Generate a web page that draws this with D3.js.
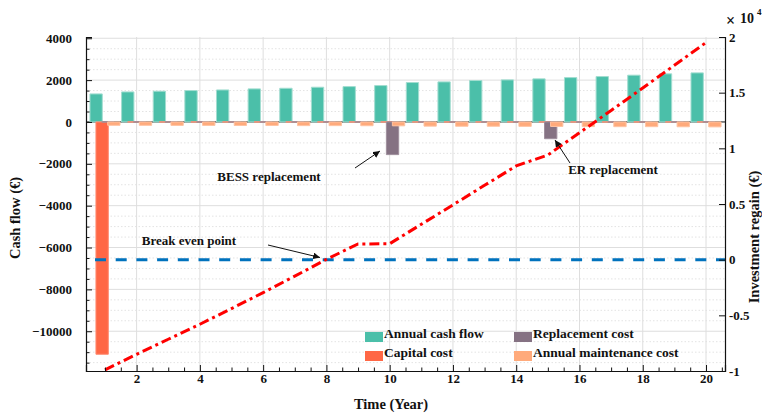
<!DOCTYPE html>
<html>
<head>
<meta charset="utf-8">
<script src="https://cdn.jsdelivr.net/npm/d3@7"></script>
<style>
  html, body { margin: 0; padding: 0; background: #fff; }
  svg text { font-family: "Liberation Serif", "Times New Roman", serif; font-weight: bold; fill: #111; }
</style>
</head>
<body>
<svg id="chart" width="762" height="415"></svg>
<script>
// ---- data ----
const years = [1, 2, 3, 4, 5, 6, 7, 8, 9, 10, 11, 12, 13, 14, 15, 16, 17, 18, 19, 20];
const annualCashFlow = [1340, 1435, 1470, 1500, 1530, 1580, 1610, 1660, 1690, 1740,
                        1885, 1915, 1980, 2010, 2060, 2120, 2170, 2235, 2300, 2345];
const capitalCost = [-11100, 0, 0, 0, 0, 0, 0, 0, 0, 0, 0, 0, 0, 0, 0, 0, 0, 0, 0, 0];
const replacementCost = [0, 0, 0, 0, 0, 0, 0, 0, 0, -1560, 0, 0, 0, 0, -800, 0, 0, 0, 0, 0];
const maintenanceCost = [-160, -160, -165, -165, -170, -170, -175, -175, -180, -185,
                         -200, -205, -205, -210, -215, -220, -225, -225, -230, -235];
const investmentRegain = [-9900, -8500, -7150, -5800, -4390, -2960, -1480, 30, 1410, 1430,
                          3180, 4920, 6680, 8420, 9400, 11400, 13400, 15420, 17460, 19500];
const breakEven = 0;

const seriesNames = ["Annual cash flow", "Capital cost", "Replacement cost", "Annual maintenance cost"];
const seriesColors = ["#4bbfa9", "#ff6745", "#857283", "#ffaa7b"];
const seriesEdges = ["#a2ddd0", "#ff8a70", "#9f8f9d", "#ffc3a2"];

const leftTicks = [-10000, -8000, -6000, -4000, -2000, 0, 2000, 4000];
const rightTicks = [-10000, -5000, 0, 5000, 10000, 15000, 20000];
const rightTickLabels = ["-1", "-0.5", "0", "0.5", "1", "1.5", "2"];
const xTicks = [2, 4, 6, 8, 10, 12, 14, 16, 18, 20];

// ---- layout ----
const svg = d3.select("#chart");
const plot = { left: 86, right: 725, top: 37, bottom: 371 };

const x = d3.scaleLinear().domain([0.4, 20.6]).range([plot.left, plot.right]);
const yL = d3.scaleLinear().domain([-11900, 4060]).range([plot.bottom, plot.top]);
const yR = d3.scaleLinear().domain([-10000, 20000]).range([plot.bottom, plot.top]);

svg.append("rect").attr("width", 762).attr("height", 415).attr("fill", "#fff");

// ---- grid ----
const grid = svg.append("g");
const leftMinor = d3.range(-11500, 4001, 500).filter(v => v % 2000 !== 0);
grid.selectAll(".hmin").data(leftMinor).join("line")
  .attr("x1", plot.left).attr("x2", plot.right)
  .attr("y1", d => yL(d)).attr("y2", d => yL(d))
  .attr("stroke", "#e3e3e3").attr("stroke-width", 1).attr("stroke-dasharray", "1.5 2");
grid.selectAll(".hmaj").data(leftTicks).join("line")
  .attr("x1", plot.left).attr("x2", plot.right)
  .attr("y1", d => yL(d)).attr("y2", d => yL(d))
  .attr("stroke", "#dedede").attr("stroke-width", 1);
grid.selectAll(".vmaj").data(xTicks).join("line")
  .attr("x1", d => x(d)).attr("x2", d => x(d))
  .attr("y1", plot.top).attr("y2", plot.bottom)
  .attr("stroke", "#dedede").attr("stroke-width", 1);

// ---- bars (grouped, four series per year) ----
const barSeries = [annualCashFlow, capitalCost, replacementCost, maintenanceCost];
const offsets = [-0.28, -0.09, 0.09, 0.28];
const barW = 0.39;

svg.append("line")
  .attr("x1", plot.left).attr("x2", plot.right)
  .attr("y1", yL(0)).attr("y2", yL(0))
  .attr("stroke", "#222").attr("stroke-width", 1);

barSeries.forEach((vals, s) => {
  svg.append("g").selectAll("path").data(years).join("path")
    .attr("d", (yr, i) => {
      const x0 = x(yr + offsets[s] - barW / 2), x1 = x(yr + offsets[s] + barW / 2);
      const y0 = yL(0), y1 = yL(vals[i]);
      return `M${x0},${y0}V${y1}H${x1}V${y0}Z`;
    })
    .attr("fill", seriesColors[s])
    .attr("stroke", seriesEdges[s])
    .attr("stroke-width", 1);
});

// ---- break-even reference line (right axis zero) ----
svg.append("line")
  .attr("x1", plot.left).attr("x2", plot.right)
  .attr("y1", yR(breakEven)).attr("y2", yR(breakEven))
  .attr("stroke", "#0072bd").attr("stroke-width", 3)
  .attr("stroke-dasharray", "11 9.7").attr("stroke-dashoffset", 11.7);

// ---- cumulative investment regain ----
const regainLine = d3.line().x((d, i) => x(years[i])).y(d => yR(d));
svg.append("path")
  .attr("d", regainLine(investmentRegain))
  .attr("fill", "none").attr("stroke", "#ff0000").attr("stroke-width", 3)
  .attr("stroke-dasharray", "10 4 3 4");

// ---- axes ----
svg.append("g").attr("transform", `translate(${plot.left},0)`)
  .call(d3.axisLeft(yL).tickValues(leftTicks).tickSize(-6).tickPadding(14).tickFormat(d3.format("d")));
svg.append("g").attr("transform", `translate(${plot.left},0)`)
  .call(d3.axisLeft(yL).tickValues(leftMinor).tickSize(-3.5).tickFormat(""))
  .call(g => g.select(".domain").remove());

svg.append("g").attr("transform", `translate(${plot.right},0)`)
  .call(d3.axisRight(yR).tickValues(rightTicks).tickSize(-6).tickPadding(4)
    .tickFormat((d, i) => rightTickLabels[i]));

svg.append("g").attr("transform", `translate(0,${plot.bottom})`)
  .call(d3.axisBottom(x).tickValues(xTicks).tickSize(-6).tickPadding(3).tickFormat(d3.format("d")));
const xMinor = d3.range(1, 20.6, 0.5).filter(v => v % 2 !== 0);
svg.append("g").attr("transform", `translate(0,${plot.bottom})`)
  .call(d3.axisBottom(x).tickValues(xMinor).tickSize(-3.5).tickFormat(""))
  .call(g => g.select(".domain").remove());

svg.selectAll(".domain").attr("stroke", "#111").attr("stroke-width", 1.2);
svg.selectAll(".tick line").attr("stroke", "#111").attr("stroke-width", 1);
svg.selectAll(".tick text").attr("font-size", 13).attr("fill", "#111")
  .attr("font-family", "Liberation Serif, Times New Roman, serif").attr("font-weight", "bold");

// exponent label of the right axis
const expo = svg.append("text").attr("x", 726).attr("y", 26).attr("font-size", 16);
expo.append("tspan").text("×");
expo.append("tspan").attr("x", 740).attr("y", 23).attr("font-size", 14).text("10");
expo.append("tspan").attr("x", 757).attr("y", 15).attr("font-size", 9).text("4");

// ---- axis titles ----
svg.append("text").attr("transform", "translate(20,218) rotate(-90)")
  .attr("text-anchor", "middle").attr("font-size", 14.5).text("Cash flow (€)");
svg.append("text").attr("transform", "translate(758.5,237) rotate(-90)")
  .attr("text-anchor", "middle").attr("font-size", 14.5).text("Investment regain (€)");
svg.append("text").attr("x", 391).attr("y", 409)
  .attr("text-anchor", "middle").attr("font-size", 14.5).text("Time (Year)");

// ---- annotations ----
const defs = svg.append("defs");
defs.append("marker").attr("id", "arrowhead")
  .attr("viewBox", "0 0 10 10").attr("refX", 10).attr("refY", 5)
  .attr("markerWidth", 7).attr("markerHeight", 7).attr("markerUnits", "userSpaceOnUse")
  .attr("orient", "auto")
  .append("path").attr("d", "M0,0L10,5L0,10Z").attr("fill", "#111");

const notes = [
  { text: "BESS replacement", tx: 269, ty: 181, from: [355, 168], to: [380, 151] },
  { text: "Break even point", tx: 189, ty: 245, from: [268, 245], to: [320, 257.5] },
  { text: "ER replacement", tx: 613, ty: 174, from: [570, 163], to: [555, 140] }
];
notes.forEach(n => {
  svg.append("text").attr("x", n.tx).attr("y", n.ty).attr("text-anchor", "middle")
    .attr("font-size", 13).text(n.text);
  svg.append("line")
    .attr("x1", n.from[0]).attr("y1", n.from[1]).attr("x2", n.to[0]).attr("y2", n.to[1])
    .attr("stroke", "#111").attr("stroke-width", 1).attr("marker-end", "url(#arrowhead)");
});

// ---- legend ----
const legendPos = [[365, 332], [365, 351], [514, 332], [514, 351]];
const lg = svg.append("g");
seriesNames.forEach((name, s) => {
  const [lx, ly] = legendPos[s];
  lg.append("rect").attr("x", lx).attr("y", ly).attr("width", 18).attr("height", 10)
    .attr("fill", seriesColors[s]);
  lg.append("text").attr("x", lx + 19).attr("y", ly + 6).attr("font-size", 13.5).text(name);
});
</script>
</body>
</html>
